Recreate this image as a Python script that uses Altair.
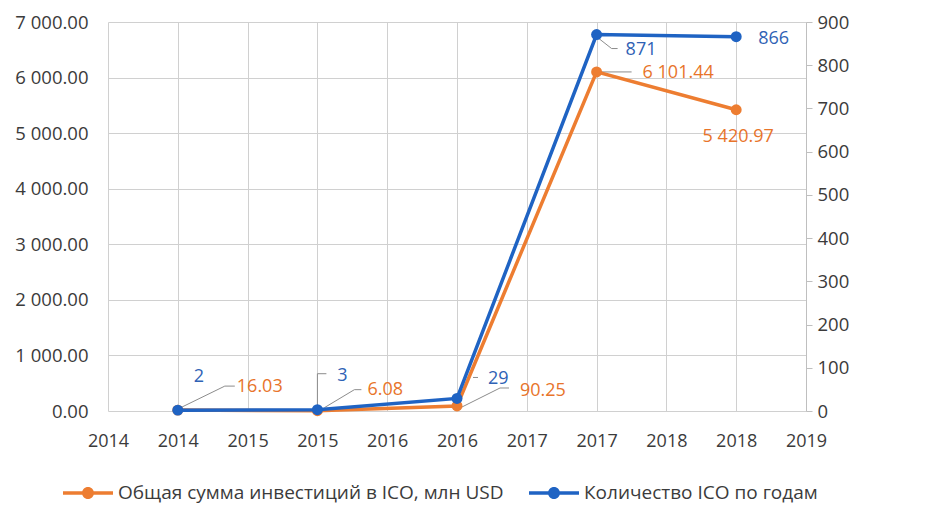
import altair as alt
import pandas as pd

years = ["2014", "2015", "2016", "2017", "2018"]
invest = [16.03, 6.08, 90.25, 6101.44, 5420.97]
count = [2, 3, 29, 871, 866]
x_tick_labels = ["2014", "2014", "2015", "2015", "2016", "2016",
                 "2017", "2017", "2018", "2018", "2019"]
series_names = ["Общая сумма инвестиций в ICO, млн USD", "Количество ICO по годам"]
left_ticks = [0, 1000, 2000, 3000, 4000, 5000, 6000, 7000]
right_ticks = [0, 100, 200, 300, 400, 500, 600, 700, 800, 900]

COLORS = ["#ED7D31", "#1F63C3"]
TEXT_COLORS = ["#E8742A", "#2F62B5"]
FONT = "Open Sans"
AXIS_TEXT = "#3b3b3b"
GRID = "#d0d0d0"
LEADER = "#8c8c8c"


def fmt_space(v):
    return f"{v:,.2f}".replace(",", " ")


inv_df = pd.DataFrame({
    "year": years,
    "pos": [2 * i + 1 for i in range(len(years))],
    "value": invest,
    "label": [fmt_space(v) for v in invest],
    "series": series_names[0],
})
cnt_df = pd.DataFrame({
    "year": years,
    "pos": [2 * i + 1 for i in range(len(years))],
    "value": count,
    "label": [str(v) for v in count],
    "series": series_names[1],
})

# label placement styles (pixel offsets from the point)
orange_label_style = {
    "2014": dict(dx=59, dy=-23, align="left"),
    "2015": dict(dx=50, dy=-21, align="left"),
    "2016": dict(dx=63, dy=-15, align="left"),
    "2017": dict(dx=46, dy=1, align="left"),
    "2018": dict(dx=2, dy=27, align="center"),
}
blue_label_style = {
    "2014": dict(dx=21, dy=-33, align="center"),
    "2015": dict(dx=25, dy=-34, align="center"),
    "2016": dict(dx=31, dy=-19, align="left"),
    "2017": dict(dx=29, dy=15, align="left"),
    "2018": dict(dx=22, dy=2, align="left"),
}
orange_leaders = {
    "2014": [(2, -2), (47, -24), (57, -24)],
    "2015": [(7, -3), (37, -21), (44, -21)],
    "2016": [(1, 3), (43, -18), (52, -18)],
    "2017": [(3, 0), (35, 0)],
}
blue_leaders = {
    "2015": [(0, -2), (0, -36), (9, -36)],
    "2016": [(16, -21), (21, -21)],
    "2017": [(1, 3), (15, 14), (21, 14)],
}

label_expr = "[" + ",".join(f"'{t}'" for t in x_tick_labels) + "][datum.value]"

X = alt.X(
    "pos:Q",
    scale=alt.Scale(domain=[0, len(x_tick_labels) - 1], nice=False, zero=False),
    axis=alt.Axis(
        values=list(range(len(x_tick_labels))), labelExpr=label_expr, title=None,
        grid=True, gridColor=GRID, domain=False, ticks=False, labelPadding=21,
        labelFlush=False, labelFontSize=18, labelColor=AXIS_TEXT, labelFont=FONT,
    ),
)
X2 = alt.X2("pos")

Y_left = alt.Y(
    "value:Q",
    scale=alt.Scale(domain=[0, 7000], nice=False),
    axis=alt.Axis(
        values=left_ticks, title=None, grid=True, gridColor=GRID, domain=False,
        ticks=False, labelPadding=20, labelFontSize=18.5, labelColor=AXIS_TEXT,
        labelFont=FONT,
        labelExpr="replace(format(datum.value, ',.2f'), regexp(',', 'g'), ' ')",
    ),
)
Y_right = alt.Y(
    "value:Q",
    scale=alt.Scale(domain=[0, 900], nice=False),
    axis=alt.Axis(
        orient="right", values=right_ticks, title=None, grid=False, domain=True,
        domainColor="#bfbfbf", ticks=True, tickSize=6, tickColor="#bfbfbf",
        labelPadding=5, labelFontSize=18.5, labelColor=AXIS_TEXT, labelFont=FONT,
    ),
)
Y2 = alt.Y2("value")

color_scale = alt.Scale(domain=series_names, range=COLORS)
legend_symbol = ("M-1,-0.07L1,-0.07L1,0.07L-1,0.07Z "
                 "M0.24,0A0.24,0.24,0,1,1,-0.24,0A0.24,0.24,0,1,1,0.24,0Z")
color_legend = alt.Color(
    "series:N", scale=color_scale,
    legend=alt.Legend(
        title=None, orient="none", legendX=-45, legendY=446, direction="horizontal",
        symbolType=legend_symbol, symbolSize=2500, symbolStrokeWidth=0,
        labelFontSize=19, labelColor=AXIS_TEXT, labelFont=FONT, labelLimit=600,
        columnPadding=25, labelOffset=5, padding=0,
    ),
)


def series_layer(df, Y, label_style, leaders, text_color, line_color):
    layers = []
    for yr, segs in leaders.items():
        for (a, b), (c, d) in zip(segs[:-1], segs[1:]):
            layers.append(
                alt.Chart(df).transform_filter(alt.datum.year == yr)
                .mark_rule(color=LEADER, strokeWidth=1, xOffset=a, yOffset=b,
                           x2Offset=c, y2Offset=d)
                .encode(x=X, y=Y, x2=X2, y2=Y2)
            )
    layers.append(
        alt.Chart(df).mark_line(strokeWidth=3.5, color=line_color).encode(x=X, y=Y)
    )
    layers.append(
        alt.Chart(df).mark_point(filled=True, size=120, opacity=1)
        .encode(x=X, y=Y, color=color_legend)
    )
    for yr, st in label_style.items():
        layers.append(
            alt.Chart(df).transform_filter(alt.datum.year == yr)
            .mark_text(dx=st["dx"], dy=st["dy"], align=st["align"], baseline="middle",
                       fontSize=18, font=FONT, color=text_color)
            .encode(x=X, y=Y, text="label:N")
        )
    return alt.layer(*layers)


orange = series_layer(inv_df, Y_left, orange_label_style, orange_leaders,
                      TEXT_COLORS[0], COLORS[0])
blue = series_layer(cnt_df, Y_right, blue_label_style, blue_leaders,
                    TEXT_COLORS[1], COLORS[1])

chart = (
    alt.layer(orange, blue)
    .resolve_scale(y="independent")
    .properties(
        width=698, height=389, autosize="none",
        padding={"left": 108, "top": 22, "right": 130, "bottom": 117},
        background="white",
    )
    .configure_view(stroke=None)
)

chart.save("out.html", embed_options={"renderer": "svg", "actions": False})
